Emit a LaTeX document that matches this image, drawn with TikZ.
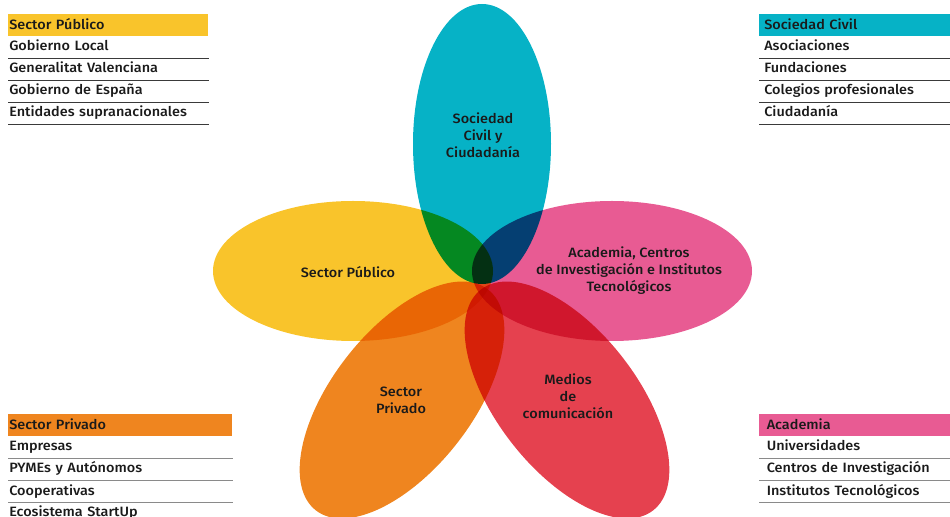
\documentclass[tikz,border=0pt]{standalone}
\usepackage{fontspec}
\setmainfont{Fira Sans}[BoldFont={Fira Sans Medium}, BoldFeatures={FakeStretch=1.07}]
\definecolor{civilC}{HTML}{06B2C6}
\definecolor{publicoC}{HTML}{F9C42B}
\definecolor{academiaC}{HTML}{E85B93}
\definecolor{privadoC}{HTML}{EF851F}
\definecolor{mediosC}{HTML}{E5414F}
\definecolor{ink}{HTML}{1A1A1A}
\definecolor{ruleD}{HTML}{3A3A3A}
\definecolor{ruleL}{HTML}{8A8A8A}
\tikzset{
  petal/.style={blend mode=multiply},
  tag/.style={font=\bfseries\fontsize{9.6}{12.1}\selectfont, text=ink, align=center},
  row/.style={anchor=north west, minimum height=.55cm, inner ysep=0pt, text height=8pt, text depth=2pt,
    align=left, font=\bfseries\fontsize{9.6}{12}\selectfont, text=ink},
  rowTL/.style={row, inner xsep=.025cm, text width=4.95cm},
  rowTR/.style={row, inner xsep=.125cm, text width=4.525cm},
  rowBL/.style={row, inner xsep=.025cm, text width=5.55cm},
  rowBR/.style={row, inner xsep=.1875cm, text width=4.4cm},
  rule/.style={line width=.7pt, draw=#1},
}
\begin{document}
\begin{tikzpicture}[x=.025cm,y=-.025cm]
\useasboundingbox (0,0) rectangle (950,517);
%petals
\fill[petal, civilC] (482,144) ellipse (69 and 140);
\fill[petal, publicoC] (353,271) ellipse (140 and 70);
\fill[petal, academiaC] (612,271) ellipse (140 and 70);
\fill[petal, privadoC, rotate around={52:(402,400)}] (402,400) ellipse (140 and 70);
\fill[petal, mediosC, rotate around={-52:(567,400)}] (567,400) ellipse (140 and 70);
%petal labels
\node[tag] (civil) at (483,135) {Sociedad\\Civil y\\Ciudadanía};
\node[tag] (publico) at (348,272) {Sector Público};
\node[tag] (academia) at (629,271) {Academia, Centros\\de Investigación e Institutos\\Tecnológicos};
\node[tag] (privado) at (401,400) {Sector\\Privado};
\node[tag] (medios) at (568,396) {Medios\\de\\comunicación};
%sector publico
\node[rowTL, fill=publicoC] (pub) at (8,14) {Sector Público};
\node[rowTL] (pub1) at (8,35.5) {Gobierno Local};
\node[rowTL] (pub2) at (8,57.5) {Generalitat Valenciana};
\node[rowTL] (pub3) at (8,79.5) {Gobierno de España};
\node[rowTL] (pub4) at (8,101.5) {Entidades supranacionales};
\draw[rule=ruleD] (pub1.south west) -- (pub1.south east);
\draw[rule=ruleD] (pub2.south west) -- (pub2.south east);
\draw[rule=ruleD] (pub3.south west) -- (pub3.south east);
\draw[rule=ruleD] (pub4.south west) -- (pub4.south east);
%sociedad civil
\node[rowTR, fill=civilC] (soc) at (759,14) {Sociedad Civil};
\node[rowTR] (soc1) at (759,35.5) {Asociaciones};
\node[rowTR] (soc2) at (759,57.5) {Fundaciones};
\node[rowTR] (soc3) at (759,79.5) {Colegios profesionales};
\node[rowTR] (soc4) at (759,101.5) {Ciudadanía};
\draw[rule=ruleD] (soc1.south west) -- (soc1.south east);
\draw[rule=ruleD] (soc2.south west) -- (soc2.south east);
\draw[rule=ruleD] (soc3.south west) -- (soc3.south east);
\draw[rule=ruleD] (soc4.south west) -- (soc4.south east);
%sector privado
\node[rowBL, fill=privadoC] (pri) at (8,414) {Sector Privado};
\node[rowBL] (pri1) at (8,435.5) {Empresas};
\node[rowBL] (pri2) at (8,457.5) {PYMEs y Autónomos};
\node[rowBL] (pri3) at (8,479.5) {Cooperativas};
\node[rowBL] (pri4) at (8,501.5) {Ecosistema StartUp};
\draw[rule=ruleL] (pri1.south west) -- (pri1.south east);
\draw[rule=ruleL] (pri2.south west) -- (pri2.south east);
\draw[rule=ruleL] (pri3.south west) -- (pri3.south east);
%academia
\node[rowBR, fill=academiaC] (aca) at (759,414) {Academia};
\node[rowBR] (aca1) at (759,435.5) {Universidades};
\node[rowBR] (aca2) at (759,457.5) {Centros de Investigación};
\node[rowBR] (aca3) at (759,479.5) {Institutos Tecnológicos};
\draw[rule=ruleL] (aca1.south west) -- (aca1.south east);
\draw[rule=ruleL] (aca2.south west) -- (aca2.south east);
\draw[rule=ruleL] (aca3.south west) -- (aca3.south east);
\end{tikzpicture}
\end{document}
